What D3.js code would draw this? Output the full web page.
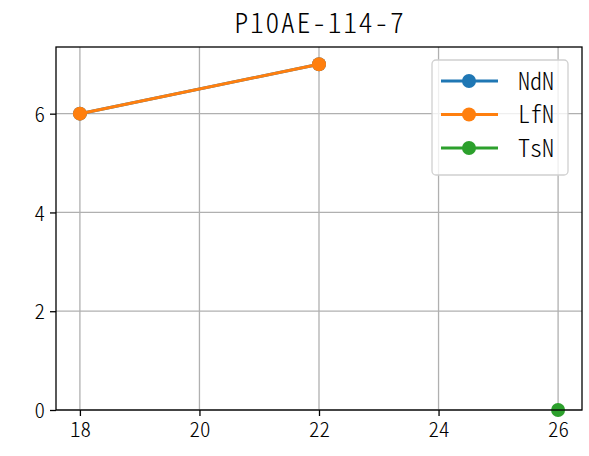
<!DOCTYPE html>
<html>
<head>
<meta charset="utf-8">
<script src="https://cdn.jsdelivr.net/npm/d3@7"></script>
<style>
  body { margin: 0; background: #fff; }
  text { font-family: "Noto Sans CJK SC", sans-serif; font-feature-settings: "hwid" 1; fill: #000; }
</style>
</head>
<body>
<svg id="chart" width="589" height="456"></svg>
<script>
const title = 'P10AE-114-7'
const seriesNames = ['NdN', 'LfN', 'TsN']
const seriesColors = ['#1f77b4', '#ff7f0e', '#2ca02c']
const ndnX = [18, 22]
const ndnY = [6, 7]
const lfnX = [18, 22]
const lfnY = [6, 7]
const tsnX = [26]
const tsnY = [0]
const xTicks = [18, 20, 22, 24, 26]
const yTicks = [0, 2, 4, 6]

const svg = d3.select('#chart')
const margin = { top: 47, right: 7, bottom: 46, left: 56 }
const width = 589 - margin.left - margin.right
const height = 456 - margin.top - margin.bottom

const x = d3.scaleLinear().domain([17.6, 26.4]).range([0, width])
const y = d3.scaleLinear().domain([0, 7.35]).range([height, 0])

const g = svg.append('g').attr('transform', `translate(${margin.left},${margin.top})`)

// grid
g.append('g').selectAll('line').data(xTicks).enter().append('line')
  .attr('x1', d => x(d)).attr('x2', d => x(d))
  .attr('y1', 0).attr('y2', height)
  .attr('stroke', '#b0b0b0').attr('stroke-width', 1.3)
g.append('g').selectAll('line').data(yTicks).enter().append('line')
  .attr('y1', d => y(d)).attr('y2', d => y(d))
  .attr('x1', 0).attr('x2', width)
  .attr('stroke', '#b0b0b0').attr('stroke-width', 1.3)

// axes
const xAxis = d3.axisBottom(x).tickValues(xTicks).tickSize(6).tickPadding(4).tickFormat(d3.format('d'))
const yAxis = d3.axisLeft(y).tickValues(yTicks).tickSize(6).tickPadding(5).tickFormat(d3.format('d'))
g.append('g').attr('transform', `translate(0,${height})`).call(xAxis)
  .call(a => a.select('.domain').remove())
  .call(a => a.selectAll('line').attr('stroke', '#000').attr('stroke-width', 1.3))
  .call(a => a.selectAll('text').style('font-size', '21px').style('font-weight', 300).attr('dy', '0.8em'))
g.append('g').call(yAxis)
  .call(a => a.select('.domain').remove())
  .call(a => a.selectAll('line').attr('stroke', '#000').attr('stroke-width', 1.3))
  .call(a => a.selectAll('text').style('font-size', '21px').style('font-weight', 300).attr('dy', '0.36em'))

// series
const series = [
  { name: seriesNames[0], xs: ndnX, ys: ndnY, color: seriesColors[0] },
  { name: seriesNames[1], xs: lfnX, ys: lfnY, color: seriesColors[1] },
  { name: seriesNames[2], xs: tsnX, ys: tsnY, color: seriesColors[2] }
]
const line = d3.line().x(d => x(d[0])).y(d => y(d[1]))
const plot = g.append('g')
series.forEach(s => {
  const pts = s.xs.map((v, i) => [v, s.ys[i]])
  plot.append('path').datum(pts).attr('d', line)
    .attr('fill', 'none').attr('stroke', s.color).attr('stroke-width', 3)
  plot.selectAll(null).data(pts).enter().append('circle')
    .attr('cx', d => x(d[0])).attr('cy', d => y(d[1])).attr('r', 7)
    .attr('fill', s.color)
})

// frame
g.append('rect').attr('width', width).attr('height', height)
  .attr('fill', 'none').attr('stroke', '#000').attr('stroke-width', 1.3)

// title (letter-spacing widens the narrower font; shift by half a gap to recentre)
svg.append('text').attr('x', margin.left + width / 2 + 1).attr('y', 32.5)
  .attr('text-anchor', 'middle').style('font-size', '27.5px').style('font-weight', 300)
  .style('letter-spacing', '1.8px').text(title)

// legend
const leg = g.append('g').attr('transform', `translate(${432 - margin.left},${60 - margin.top})`)
leg.append('rect').attr('width', 136).attr('height', 115).attr('rx', 4)
  .attr('fill', 'rgba(255,255,255,0.8)').attr('stroke', '#d0d0d0').attr('stroke-width', 1.3)
series.forEach((s, i) => {
  const ly = 21 + i * 33.5
  leg.append('line').attr('x1', 9).attr('x2', 66).attr('y1', ly).attr('y2', ly)
    .attr('stroke', s.color).attr('stroke-width', 3)
  leg.append('circle').attr('cx', 37).attr('cy', ly).attr('r', 7).attr('fill', s.color)
  leg.append('text').attr('x', 86).attr('y', ly).attr('dy', '0.36em')
    .style('font-size', '24px').style('font-weight', 300).text(s.name)
})
</script>
</body>
</html>
